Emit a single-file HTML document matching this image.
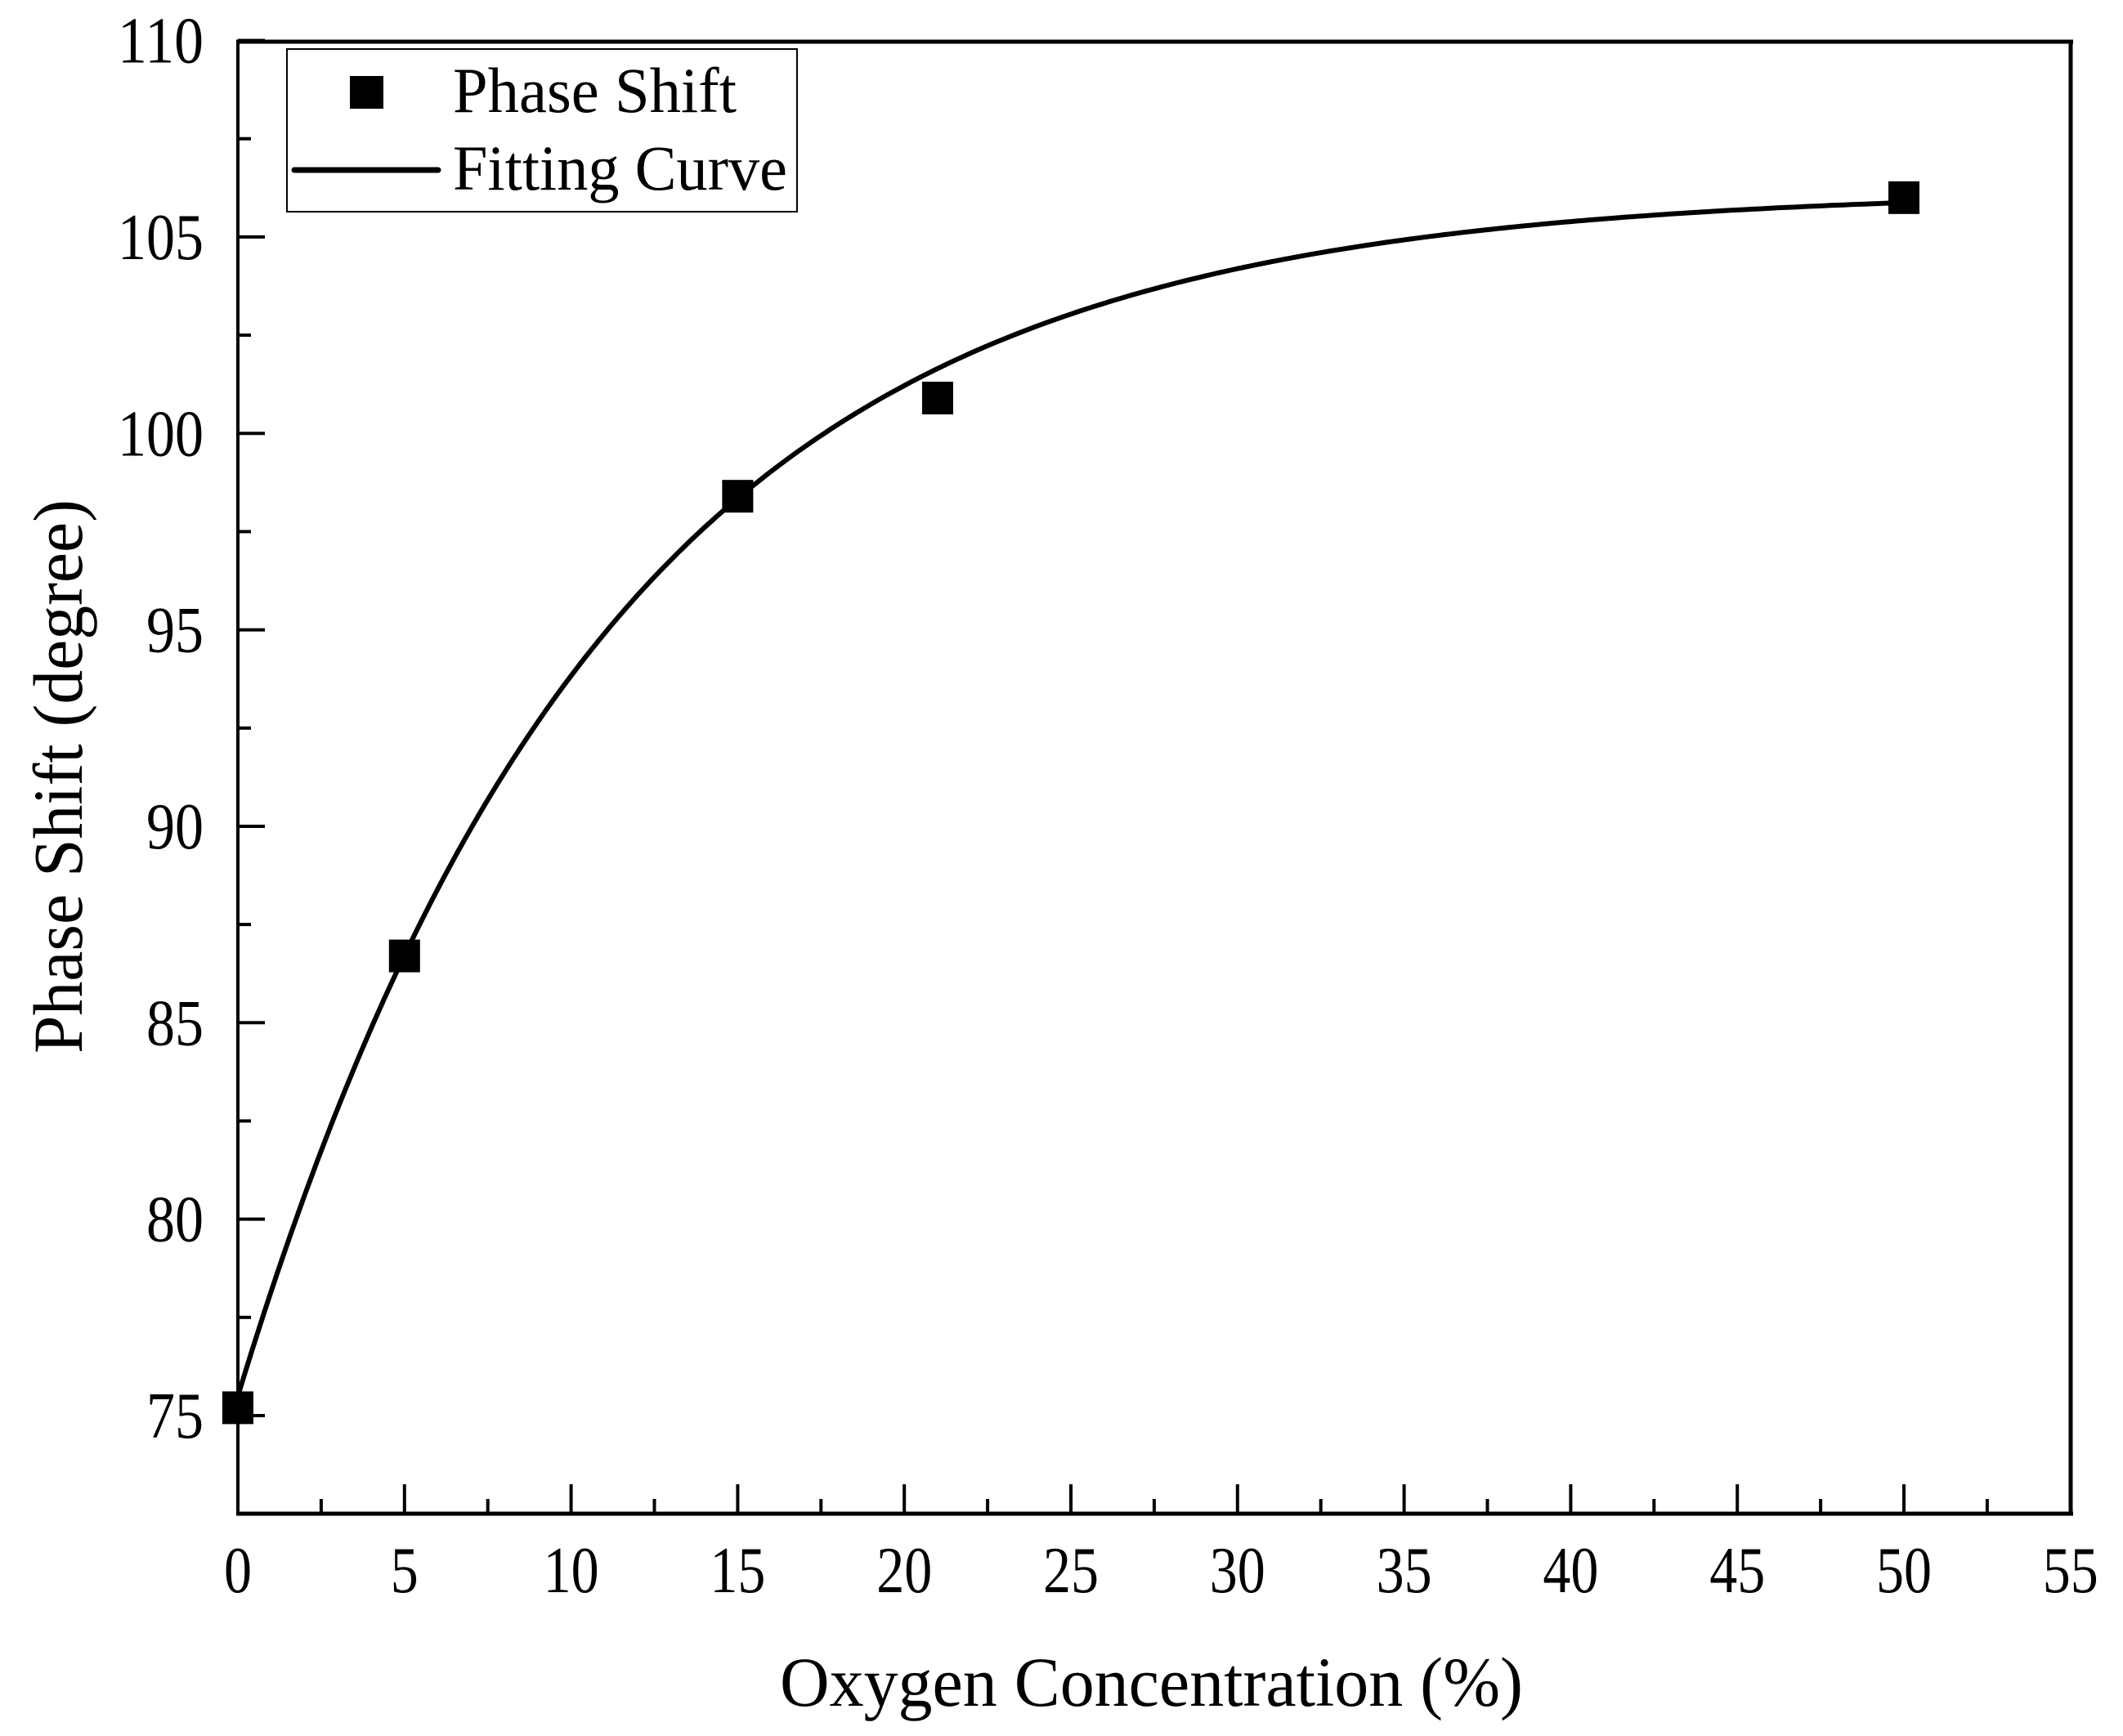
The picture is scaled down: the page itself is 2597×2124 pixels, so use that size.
<!DOCTYPE html>
<html><head><meta charset="utf-8"><style>
html,body{margin:0;padding:0;background:#fff;}
svg{display:block;font-family:"Liberation Serif",serif;}
</style></head><body>
<svg id="chart" width="2597" height="2124" viewBox="0 0 2597 2124" xmlns="http://www.w3.org/2000/svg">
<rect x="0" y="0" width="2597" height="2124" fill="#fff"/>
<g id="plot"></g>
</svg>
<script>
const xTicks = [0,5,10,15,20,25,30,35,40,45,50,55];
const yTicks = [75,80,85,90,95,100,105,110];
const xData = [0,5,15,21,50];
const yData = [75.2,86.7,98.4,100.9,106.0];
const fitParams = [106.2,30.7,11.0];

const X0=291, XS=40.76, YB=1732, YS=48.07;
const L=291, R=2533, T=51, B=1852;
function sx(v){return X0+v*XS;}
function sy(v){return YB-(v-75)*YS;}
const NS="http://www.w3.org/2000/svg";
const g=document.getElementById('plot');
function mk(tag,attrs,parent){const e=document.createElementNS(NS,tag);for(const k in attrs)e.setAttribute(k,attrs[k]);(parent||g).appendChild(e);return e;}

// fit curve
let d='';
for(let i=0;i<=250;i++){const x=50*i/250;const y=fitParams[0]-fitParams[1]*Math.exp(-x/fitParams[2]);d+=(i?'L':'M')+sx(x).toFixed(1)+','+sy(y).toFixed(1);}
const curve=mk('path',{d:d,fill:'none',stroke:'#000','stroke-width':6});



// markers
xData.forEach((x,i)=>{
  const m=mk('rect',{x:sx(x)-19,y:sy(yData[i])-20,width:38,height:40,fill:'#000'});
  
  
});

// axes frame
const lw=mk('line',{x1:L,y1:T,x2:L,y2:B,stroke:'#000','stroke-width':4});


const bw=mk('line',{x1:L-2,y1:B,x2:R+3,y2:B,stroke:'#000','stroke-width':5});


const tw=mk('line',{x1:L-2,y1:T,x2:R+3,y2:T,stroke:'#000','stroke-width':5});


const rw=mk('line',{x1:R,y1:T,x2:R,y2:B,stroke:'#000','stroke-width':5});



// x ticks
xTicks.forEach((v,i)=>{
  const x=sx(v);
  const t=mk('line',{x1:x,y1:B,x2:x,y2:B-36,stroke:'#000','stroke-width':4});
  
  
  if(i<xTicks.length-1){const xm=sx(v+2.5);
    const mt=mk('line',{x1:xm,y1:B,x2:xm,y2:B-18,stroke:'#000','stroke-width':4});
    
    }
  const s=String(v);
  const lb=mk('text',{x:x,y:1948,'text-anchor':'middle','font-size':80,textLength:34*s.length,lengthAdjust:'spacingAndGlyphs'});
  lb.textContent=s;
  
  
});
// y ticks
yTicks.forEach((v,i)=>{
  const y=sy(v);
  const t=mk('line',{x1:L,y1:y,x2:L+33,y2:y,stroke:'#000','stroke-width':4});
  
  
  const ym=sy(v-2.5);
  const mt=mk('line',{x1:L,y1:ym,x2:L+16,y2:ym,stroke:'#000','stroke-width':4});
  
  
  const s=String(v);
  const lb=mk('text',{x:249,y:y+27,'text-anchor':'end','font-size':80,textLength:35*s.length,lengthAdjust:'spacingAndGlyphs'});
  lb.textContent=s;
  
  
});

// titles
const xt=mk('text',{x:954,y:2087,'font-size':86,textLength:909,lengthAdjust:'spacingAndGlyphs'});
xt.textContent='Oxygen Concentration (%)';


const yt=mk('text',{x:0,y:0,'font-size':86,'text-anchor':'middle',textLength:678,lengthAdjust:'spacingAndGlyphs',transform:'translate(100,950) rotate(-90)'});
yt.textContent='Phase Shift (degree)';



// legend
const lg=mk('g',{});


const lbx=mk('rect',{x:351,y:60,width:624,height:199,fill:'#fff',stroke:'#000','stroke-width':2},lg);


const lm=mk('rect',{x:428,y:93,width:41,height:40,fill:'#000'},lg);


const ll=mk('line',{x1:360,y1:208,x2:536,y2:208,stroke:'#000','stroke-width':7,'stroke-linecap':'round'},lg);


const l1=mk('text',{x:554,y:137,'font-size':78,textLength:347,lengthAdjust:'spacingAndGlyphs'},lg);
l1.textContent='Phase Shift';


const l2=mk('text',{x:554,y:232,'font-size':78,textLength:409,lengthAdjust:'spacingAndGlyphs'},lg);
l2.textContent='Fitting Curve';


</script>
</body></html>
